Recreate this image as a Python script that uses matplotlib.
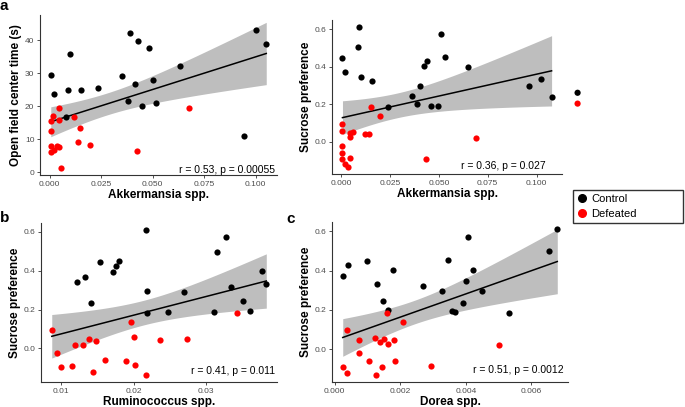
import numpy as np
import matplotlib
matplotlib.use("Agg")
from matplotlib import pyplot as plt
from matplotlib.lines import Line2D

plt.rcParams['font.family'] = ['Liberation Sans', 'DejaVu Sans']

# panel a: Akkermansia vs open field center time
akk_ctrl_x = [0.0005, 0.002, 0.0099, 0.0089, 0.015, 0.0081, 0.0233, 0.0353, 0.038, 0.0392,
              0.0416, 0.0427, 0.045, 0.0482, 0.050, 0.0518, 0.0633, 0.0942, 0.100, 0.1052]
oft_ctrl_y = [29.4, 23.6, 35.8, 25.0, 25.0, 16.6, 25.5, 29.2, 21.5, 42.1,
              26.6, 39.8, 19.9, 37.7, 27.9, 20.8, 32.0, 11.1, 43.0, 38.8]
akk_def_x = [0.0005, 0.0005, 0.0018, 0.0044, 0.0045, 0.0005, 0.0005, 0.0021, 0.0036, 0.0044,
             0.0055, 0.012, 0.0146, 0.0139, 0.0194, 0.0424, 0.0675]
oft_def_y = [15.6, 12.4, 16.9, 19.4, 15.8, 8.0, 6.2, 6.8, 7.8, 7.5,
             1.35, 16.8, 13.3, 9.0, 8.2, 6.4, 19.5]

# panel a2: Akkermansia vs sucrose preference
akk2_ctrl_x = [0.0007, 0.0022, 0.0085, 0.0094, 0.0104, 0.0157, 0.024, 0.0363, 0.039, 0.0402,
               0.0426, 0.0438, 0.0458, 0.0494, 0.0513, 0.053, 0.0649, 0.0961, 0.1022, 0.1077]
sp2_ctrl_y = [0.448, 0.373, 0.504, 0.612, 0.346, 0.322, 0.185, 0.245, 0.199, 0.297,
              0.404, 0.429, 0.191, 0.191, 0.576, 0.453, 0.401, 0.296, 0.336, 0.236]
akk2_def_x = [0.0007, 0.0007, 0.0007, 0.0007, 0.0007, 0.002, 0.0036, 0.0046, 0.0043, 0.0046,
              0.006, 0.0123, 0.0145, 0.0152, 0.0201, 0.0433, 0.0688]
sp2_def_y = [0.096, 0.058, -0.023, -0.061, -0.094, -0.122, -0.136, -0.087, 0.026, 0.045,
             0.049, 0.038, 0.042, 0.185, 0.136, -0.091, 0.021]
# two points drawn outside the panel in the original figure
stray_x = [0.121, 0.121]
stray_y = [0.261, 0.203]
stray_col = ['black', 'red']

# panel b: Ruminococcus vs sucrose preference
rum_ctrl_x = [0.01217, 0.01327, 0.01415, 0.0153, 0.0171, 0.01756, 0.01802, 0.0217, 0.0218, 0.0218,
              0.0247, 0.0269, 0.0311, 0.0315, 0.0328, 0.0334, 0.0351, 0.0361, 0.0377, 0.0383]
spb_ctrl_y = [0.343, 0.369, 0.235, 0.445, 0.396, 0.427, 0.450, 0.609, 0.296, 0.184,
              0.189, 0.292, 0.190, 0.498, 0.573, 0.318, 0.243, 0.195, 0.401, 0.333]
rum_def_x = [0.0087, 0.0094, 0.010, 0.0115, 0.0119, 0.0130, 0.0138, 0.0144, 0.0148, 0.0161,
             0.0189, 0.0197, 0.0201, 0.0202, 0.0217, 0.0236, 0.0274, 0.0342]
spb_def_y = [0.095, -0.025, -0.095, -0.092, 0.019, 0.019, 0.046, -0.124, 0.037, -0.061,
             -0.066, 0.134, 0.058, -0.088, -0.136, 0.044, 0.049, 0.184]

# panel c: Dorea vs sucrose preference
dor_ctrl_x = [0.00025, 0.0004, 0.001, 0.0013, 0.00148, 0.00163, 0.00177, 0.0027, 0.00328, 0.00346,
              0.00359, 0.00366, 0.00392, 0.00402, 0.00406, 0.00422, 0.00449, 0.00532, 0.00653, 0.00679]
spc_ctrl_y = [0.370, 0.430, 0.448, 0.334, 0.245, 0.201, 0.401, 0.320, 0.298, 0.452,
              0.194, 0.191, 0.237, 0.346, 0.573, 0.404, 0.297, 0.184, 0.499, 0.610]
dor_def_x = [0.00025, 0.00037, 0.00037, 0.00076, 0.00076, 0.00105, 0.00123, 0.00126, 0.00139, 0.00145,
             0.0015, 0.0016, 0.00163, 0.00182, 0.00184, 0.0021, 0.00293, 0.00501]
spc_def_y = [-0.090, -0.121, 0.099, 0.046, -0.022, -0.060, 0.055, -0.131, 0.037, -0.089,
             0.051, 0.186, 0.024, 0.044, -0.063, 0.138, -0.084, 0.022]

T975 = 2.03  # t quantile for ~35 df
BAND = '#bebebe'
TICK_COL = '#4d4d4d'


def draw_panel(ax, cx, cy, dx, dy, xlabel, ylabel, stat, stat_pos, xticks, xfmt, yticks, yfmt):
	x = np.array(cx + dx)
	y = np.array(cy + dy)
	n = len(x)
	slope, icpt = np.polyfit(x, y, 1)
	resid = y - (slope * x + icpt)
	s = np.sqrt(np.sum(resid ** 2) / (n - 2))
	sxx = np.sum((x - x.mean()) ** 2)
	xs = np.linspace(x.min(), x.max(), 100)
	fit = slope * xs + icpt
	se = s * np.sqrt(1.0 / n + (xs - x.mean()) ** 2 / sxx)
	ax.fill_between(xs, fit - T975 * se, fit + T975 * se, color=BAND, lw=0, zorder=1)
	ax.plot(xs, fit, color='black', lw=1.1, zorder=2)
	ax.scatter(cx, cy, s=20, color='black', lw=0, zorder=3)
	ax.scatter(dx, dy, s=20, color='red', lw=0, zorder=3)

	for sp in ['top', 'right']:
		ax.spines[sp].set_visible(False)
	for sp in ['left', 'bottom']:
		ax.spines[sp].set_color('#333333')
		ax.spines[sp].set_linewidth(0.8)
	ax.set_xticks(xticks)
	ax.set_xticklabels([xfmt.format(v) for v in xticks])
	ax.set_yticks(yticks)
	ax.set_yticklabels([yfmt.format(v) for v in yticks])
	ax.tick_params(labelsize=6, colors='#333333', labelcolor=TICK_COL, length=2.5, width=0.6, pad=1.5)
	ax.set_xlabel(xlabel, fontsize=8.5, fontweight='bold', labelpad=1)
	ax.set_ylabel(ylabel, fontsize=8.5, fontweight='bold', labelpad=2)
	ax.text(stat_pos[0], stat_pos[1], stat, transform=ax.transAxes, ha='right', va='bottom', fontsize=7.5)


fig = plt.figure(figsize=(6.85, 4.07), dpi=100)

ax_a = fig.add_axes([0.0584, 0.570, 0.346, 0.393])
draw_panel(ax_a, akk_ctrl_x, oft_ctrl_y, akk_def_x, oft_def_y,
           'Akkermansia spp.', 'Open field center time (s)', 'r = 0.53, p = 0.00055', (0.99, 0.0),
           [0.0, 0.025, 0.05, 0.075, 0.1], '{:.3f}', [0, 10, 20, 30, 40], '{:d}')

ax_a2 = fig.add_axes([0.4847, 0.5725, 0.3358, 0.378])
draw_panel(ax_a2, akk2_ctrl_x, sp2_ctrl_y, akk2_def_x, sp2_def_y,
           'Akkermansia spp.', 'Sucrose preference', 'r = 0.36, p = 0.027', (0.93, 0.02),
           [0.0, 0.025, 0.05, 0.075, 0.1], '{:.3f}', [0.0, 0.2, 0.4, 0.6], '{:.1f}')
ax_a2.autoscale(False)
ax_a2.scatter(stray_x, stray_y, s=20, c=stray_col, lw=0, zorder=3, clip_on=False)

ax_b = fig.add_axes([0.0599, 0.0614, 0.3445, 0.3907])
draw_panel(ax_b, rum_ctrl_x, spb_ctrl_y, rum_def_x, spb_def_y,
           'Ruminococcus spp.', 'Sucrose preference', 'r = 0.41, p = 0.011', (0.99, 0.04),
           [0.01, 0.02, 0.03], '{:.2f}', [0.0, 0.2, 0.4, 0.6], '{:.1f}')

ax_c = fig.add_axes([0.4847, 0.0614, 0.3445, 0.393])
draw_panel(ax_c, dor_ctrl_x, spc_ctrl_y, dor_def_x, spc_def_y,
           'Dorea spp.', 'Sucrose preference', 'r = 0.51, p = 0.0012', (0.98, 0.045),
           [0.0, 0.002, 0.004, 0.006], '{:.3f}', [0.0, 0.2, 0.4, 0.6], '{:.1f}')

fig.text(0.0, 0.975, 'a', fontsize=11, fontweight='bold', va='baseline')
fig.text(0.0, 0.4545, 'b', fontsize=11, fontweight='bold', va='baseline')
fig.text(0.418, 0.452, 'c', fontsize=11, fontweight='bold', va='baseline')

handles = [Line2D([], [], marker='o', ls='', color='black', markersize=5.5),
           Line2D([], [], marker='o', ls='', color='red', markersize=5.5)]
fig.legend(handles, ['Control', 'Defeated'], loc='upper left',
           bbox_to_anchor=(573 / 685, 179 / 407, 110 / 685, 38 / 407), mode='expand', borderaxespad=0,
           fontsize=8, frameon=True, fancybox=False, edgecolor='#333333', framealpha=1,
           handletextpad=0.3, borderpad=0.35, labelspacing=0.45, handlelength=1.0)

fig.savefig('out.png', dpi=100)
